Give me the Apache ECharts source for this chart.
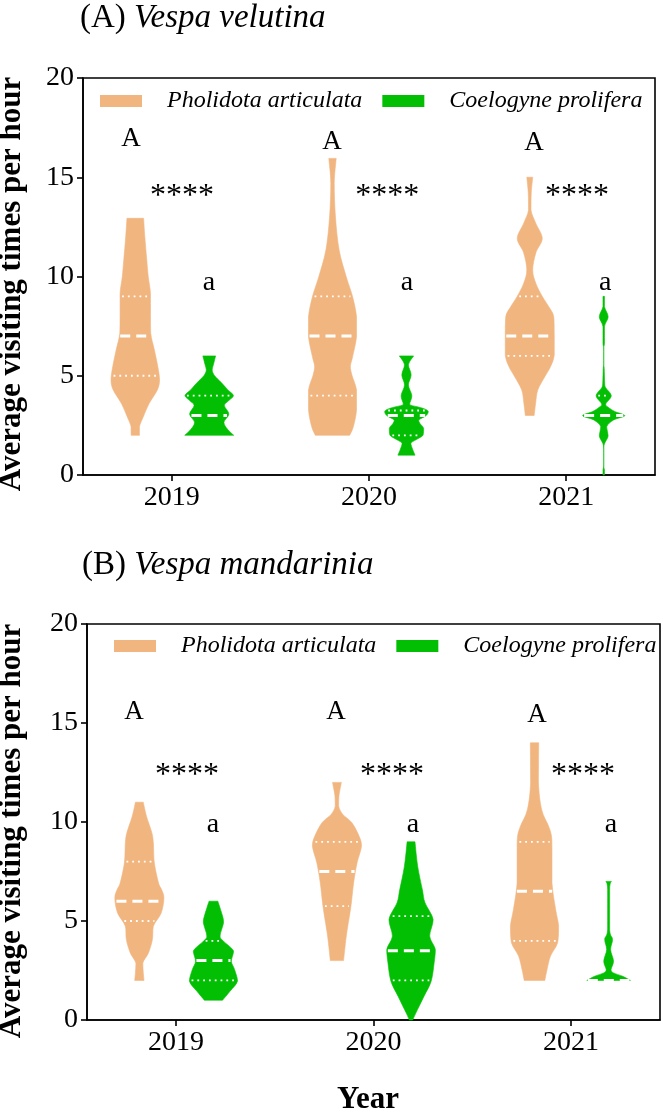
<!DOCTYPE html>
<html><head><meta charset="utf-8">
<script src="https://cdn.jsdelivr.net/npm/echarts@6/dist/echarts.min.js"></script>
<style>html,body{margin:0;padding:0;background:#fff}#c{width:663px;height:1117px}</style>
</head><body><div id="c"></div>
<script>
// ---------------- data ----------------
const years = ['2019', '2020', '2021'];
const yearPos = [1, 2, 3];
const speciesNames = ['Pholidota articulata', 'Coelogyne prolifera'];
const yTicks = [0, 5, 10, 15, 20];

// Violin profiles: [visits per hour, relative density (half width, 1 = widest)]
// Panel A: Vespa velutina
const vvPholidota2019 = [[2.0,0.17],[2.43,0.17],[2.94,0.33],[3.61,0.57],[4.28,0.9],[4.79,0.99],[5.46,0.92],[6.3,0.78],[7.14,0.63],[8.1,0.62],[9.15,0.62],[9.99,0.53],[10.83,0.47],[12.0,0.39],[12.93,0.34]];
const vvPholidota2020 = [[2.0,0.7],[2.43,0.85],[3.27,0.98],[4.28,0.98],[5.0,0.8],[5.46,0.73],[5.96,0.82],[6.97,0.98],[7.97,0.98],[8.98,0.82],[9.99,0.56],[11.33,0.27],[13.0,0.12],[14.69,0.07],[15.95,0.15]];
const vvPholidota2021 = [[3.0,0.18],[3.62,0.24],[4.29,0.33],[4.96,0.62],[5.46,0.85],[6.05,1.0],[7.0,1.0],[7.97,0.98],[8.47,0.78],[8.98,0.52],[9.65,0.25],[10.33,0.12],[11.2,0.25],[11.92,0.51],[12.7,0.24],[13.35,0.05],[14.2,0.06],[15.0,0.12]];
const vvCoelogyne2019 = [[2.0,1.0],[2.3,0.75],[2.65,0.6],[3.07,0.8],[3.5,0.62],[3.75,0.8],[4.0,0.99],[4.3,0.75],[4.66,0.49],[5.0,0.22],[5.29,0.12],[5.6,0.18],[6.0,0.26]];
const vvCoelogyne2020 = [[1.0,0.35],[1.3,0.25],[1.6,0.18],[1.85,0.5],[2.02,0.68],[2.35,0.7],[2.6,0.55],[2.77,0.5],[2.99,0.8],[3.2,0.89],[3.35,0.7],[3.45,0.4],[3.57,0.13],[3.99,0.22],[4.54,0.08],[5.04,0.19],[5.55,0.08],[6.0,0.29]];
const vvCoelogyne2021 = [[0.0,0.03],[0.25,0.03],[0.5,0.0],[1.3,0.0],[1.6,0.04],[1.97,0.18],[2.43,0.12],[2.77,0.4],[2.99,0.86],[3.2,0.45],[3.4,0.2],[3.57,0.08],[3.99,0.31],[4.4,0.08],[4.62,0.04],[5.37,0.02],[5.6,0.0],[6.4,0.0],[6.63,0.03],[7.47,0.03],[7.97,0.18],[8.48,0.03],[9.0,0.03]];
// Panel B: Vespa mandarinia
const vmPholidota2019 = [[2.0,0.19],[2.38,0.16],[2.88,0.14],[3.39,0.37],[4.06,0.53],[4.74,0.57],[5.41,0.89],[6.17,1.0],[6.6,0.9],[6.93,0.78],[7.94,0.61],[8.95,0.57],[9.45,0.51],[10.29,0.29],[11.0,0.16]];
const vmPholidota2020 = [[3.0,0.27],[3.7,0.33],[4.41,0.4],[5.75,0.57],[6.93,0.68],[7.94,0.82],[8.78,1.0],[9.29,0.9],[9.96,0.61],[10.38,0.24],[10.8,0.07],[11.3,0.08],[12.0,0.18]];
const vmPholidota2021 = [[2.0,0.42],[2.55,0.51],[3.23,0.65],[3.9,0.94],[4.74,0.98],[5.58,0.86],[6.93,0.71],[8.61,0.71],[9.29,0.69],[9.8,0.57],[10.63,0.29],[11.98,0.16],[14.0,0.17]];
const vmCoelogyne2019 = [[1.0,0.37],[1.46,0.68],[1.97,0.98],[2.55,0.86],[2.97,0.73],[3.48,0.82],[3.98,0.41],[4.24,0.27],[4.91,0.41],[5.25,0.37],[6.0,0.18]];
const vmCoelogyne2020 = [[0.0,0.07],[0.36,0.2],[1.2,0.53],[1.96,0.82],[2.88,0.94],[3.56,0.99],[4.24,0.76],[5.07,0.9],[5.92,0.57],[6.59,0.46],[7.77,0.27],[9.0,0.16]];
const vmCoelogyne2021 = [[2.0,0.89],[2.21,0.57],[2.38,0.2],[2.55,0.1],[2.97,0.2],[3.56,0.08],[4.07,0.16],[4.58,0.04],[6.6,0.04],[7.0,0.11]];

// Quartiles [Q1, median, Q3]
const vvPholidotaQuart = [[5,7,9],[4,7,9],[6,7,9]];
const vvCoelogyneQuart = [[3,3,4],[2,3,3.25],[3,3,4]];
const vmPholidotaQuart = [[5,6,8],[5.75,7.5,9],[4,6.5,9]];
const vmCoelogyneQuart = [[2,3,4],[2,3.5,5.25],[2,2,2]];

// Significance annotations [x (year position), y, text]
const vvLabels = [[0.793,16.93,'A'],[1.052,14.05,'****'],[1.189,9.7,'a'],
                  [1.813,16.79,'A'],[2.092,14.05,'****'],[2.193,9.7,'a'],
                  [2.837,16.71,'A'],[3.055,14.05,'****'],[3.197,9.7,'a']];
const vmLabels = [[0.788,15.58,'A'],[1.056,12.36,'****'],[1.188,9.85,'a'],
                  [1.81,15.58,'A'],[2.093,12.36,'****'],[2.2,9.85,'a'],
                  [2.827,15.43,'A'],[3.06,12.36,'****'],[3.202,9.85,'a']];

// ---------------- rendering ----------------
const FONT = '"Liberation Serif", "Times New Roman", serif';
const ORANGE = '#F1B57F';
const GREEN = '#03BF03';
const HALF = 0.1242;    // x-units for density 1
const OFFSET = [-0.185, 0.19];

function densAt(prof, v) {
  if (v <= prof[0][0]) return prof[0][1];
  for (let k = 1; k < prof.length; k++) {
    if (v <= prof[k][0]) {
      const [v0, d0] = prof[k-1], [v1, d1] = prof[k];
      return d0 + (d1 - d0) * (v - v0) / (v1 - v0);
    }
  }
  return prof[prof.length-1][1];
}

const clamp = (x, a, b) => Math.max(Math.min(a, b), Math.min(Math.max(a, b), x));
// smooth (monotone-clamped) cubic path through pixel points
function smoothSeg(P) {
  let s = '';
  for (let k = 0; k < P.length - 1; k++) {
    const p0 = P[Math.max(k-1, 0)], p1 = P[k], p2 = P[k+1], p3 = P[Math.min(k+2, P.length-1)];
    let c1x = p1[0] + (p2[0] - p0[0]) / 6, c1y = p1[1] + (p2[1] - p0[1]) / 6;
    let c2x = p2[0] - (p3[0] - p1[0]) / 6, c2y = p2[1] - (p3[1] - p1[1]) / 6;
    c1x = clamp(c1x, p1[0], p2[0]); c2x = clamp(c2x, p1[0], p2[0]);
    c1y = clamp(c1y, p1[1], p2[1]); c2y = clamp(c2y, p1[1], p2[1]);
    s += ' C' + c1x.toFixed(2) + ' ' + c1y.toFixed(2) + ' ' + c2x.toFixed(2) + ' ' + c2y.toFixed(2) + ' ' + p2[0].toFixed(2) + ' ' + p2[1].toFixed(2);
  }
  return s;
}

function violinSeries(name, color, profiles, quarts, offset, axisIdx) {
  return {
    type: 'custom', name: name, xAxisIndex: axisIdx, yAxisIndex: axisIdx,
    itemStyle: { color: color },
    data: yearPos.map(p => [p, 0]),
    renderItem: function (params, api) {
      const i = params.dataIndex;
      const xc = api.value(0) + offset;
      const prof = profiles[i];
      const L = prof.map(([v, d]) => api.coord([xc - d*HALF, v]));
      const R = prof.map(([v, d]) => api.coord([xc + d*HALF, v])).reverse();
      const path = 'M' + L[0][0].toFixed(2) + ' ' + L[0][1].toFixed(2) + smoothSeg(L) +
                   ' L' + R[0][0].toFixed(2) + ' ' + R[0][1].toFixed(2) + smoothSeg(R) + ' Z';
      const children = [{ type: 'path', shape: { pathData: path }, style: { fill: color, stroke: color, lineWidth: 0.6 } }];
      const q = quarts[i];
      const drawLine = (v, dashed) => {
        const d = densAt(prof, v);
        const a = api.coord([xc - d*HALF, v]);
        const b = api.coord([xc + d*HALF, v]);
        const inset = dashed ? 1 : 2;
        children.push({ type: 'line', shape: { x1: a[0]+inset, y1: a[1], x2: b[0]-inset, y2: b[1] },
          style: { stroke: '#fff', lineWidth: dashed ? 3 : 1.8, lineDash: dashed ? [10, 6] : [1.8, 4] } });
      };
      if (q[0] !== q[1]) drawLine(q[0], false);
      if (q[2] !== q[1]) drawLine(q[2], false);
      drawLine(q[1], true);
      return { type: 'group', children: children };
    }
  };
}

function labelSeries(labels, axisIdx) {
  return {
    type: 'custom', xAxisIndex: axisIdx, yAxisIndex: axisIdx, silent: true,
    data: labels,
    renderItem: function (params, api) {
      const lab = labels[params.dataIndex];
      const p = api.coord([lab[0], lab[1]]);
      const size = lab[2] === '****' ? 32 : (lab[2] === 'A' ? 27 : 28);
      return { type: 'text', x: p[0], y: p[1],
        style: { text: lab[2], fill: '#000', align: 'center', verticalAlign: 'middle',
                 font: size + 'px ' + FONT } };
    }
  };
}

const grids = [
  { left: 83, top: 78, width: 572, height: 397 },
  { left: 87, top: 624, width: 573, height: 396 }
];

function xAxis(idx) {
  return {
    type: 'value', gridIndex: idx, min: 0.55, max: 3.45,
    axisLine: { show: true, lineStyle: { color: '#000', width: 1.6 } },
    axisTick: { show: true, customValues: yearPos, length: 6, lineStyle: { color: '#000', width: 1.6 } },
    axisLabel: { customValues: yearPos, formatter: v => years[Math.round(v) - 1], color: '#000',
                 fontFamily: FONT, fontSize: 28, margin: 9 },
    splitLine: { show: false }
  };
}
function yAxis(idx) {
  return {
    type: 'value', gridIndex: idx, min: 0, max: 20, interval: 5,
    axisLine: { show: true, lineStyle: { color: '#000', width: 1.6 } },
    axisTick: { show: true, length: 6, lineStyle: { color: '#000', width: 1.6 } },
    axisLabel: { color: '#000', fontFamily: FONT, fontSize: 28, margin: 9,
                 formatter: v => yTicks.includes(v) ? String(v) : '' },
    splitLine: { show: false }
  };
}

function legend(left, top) {
  return {
    left: left, top: top, orient: 'horizontal', icon: 'rect', itemWidth: 42, itemHeight: 12,
    itemGap: 20, selectedMode: false, data: speciesNames,
    textStyle: { fontFamily: FONT, fontStyle: 'italic', fontSize: 24, color: '#000', padding: [0, 0, 0, 20] }
  };
}

const titleRich = { n: { fontFamily: FONT, fontSize: 33, fill: '#000' }, i: { fontFamily: FONT, fontSize: 33, fontStyle: 'italic', fill: '#000' } };
const yNameStyle = { text: 'Average visiting times per hour', fill: '#000', font: 'bold 31px ' + FONT, align: 'center', verticalAlign: 'middle' };

const option = {
  animation: false,
  backgroundColor: '#fff',
  grid: grids.map(g => Object.assign({ show: true, borderColor: '#000', borderWidth: 1.6, backgroundColor: 'transparent', outerBoundsMode: 'none', containLabel: false }, g)),
  xAxis: [xAxis(0), xAxis(1)],
  yAxis: [yAxis(0), yAxis(1)],
  legend: [legend(95, 84), legend(109, 629)],
  graphic: [
    { type: 'text', left: 80, top: 2, style: { rich: titleRich, text: '{n|(A) }{i|Vespa velutina}' } },
    { type: 'text', left: 82, top: 549, style: { rich: titleRich, text: '{n|(B) }{i|Vespa mandarinia}' } },
    { type: 'text', x: 12, y: 284, rotation: Math.PI / 2, style: yNameStyle },
    { type: 'text', x: 12, y: 831, rotation: Math.PI / 2, style: yNameStyle },
    { type: 'text', x: 368, y: 1100, style: { text: 'Year', fill: '#000', font: 'bold 31px ' + FONT, align: 'center', verticalAlign: 'middle' } }
  ],
  series: [
    violinSeries(speciesNames[0], ORANGE, [vvPholidota2019, vvPholidota2020, vvPholidota2021], vvPholidotaQuart, OFFSET[0], 0),
    violinSeries(speciesNames[1], GREEN, [vvCoelogyne2019, vvCoelogyne2020, vvCoelogyne2021], vvCoelogyneQuart, OFFSET[1], 0),
    violinSeries(speciesNames[0], ORANGE, [vmPholidota2019, vmPholidota2020, vmPholidota2021], vmPholidotaQuart, OFFSET[0], 1),
    violinSeries(speciesNames[1], GREEN, [vmCoelogyne2019, vmCoelogyne2020, vmCoelogyne2021], vmCoelogyneQuart, OFFSET[1], 1),
    labelSeries(vvLabels, 0),
    labelSeries(vmLabels, 1)
  ]
};

const chart = echarts.init(document.getElementById('c'), null, { renderer: 'canvas' });
chart.setOption(option);
</script>
</body></html>
